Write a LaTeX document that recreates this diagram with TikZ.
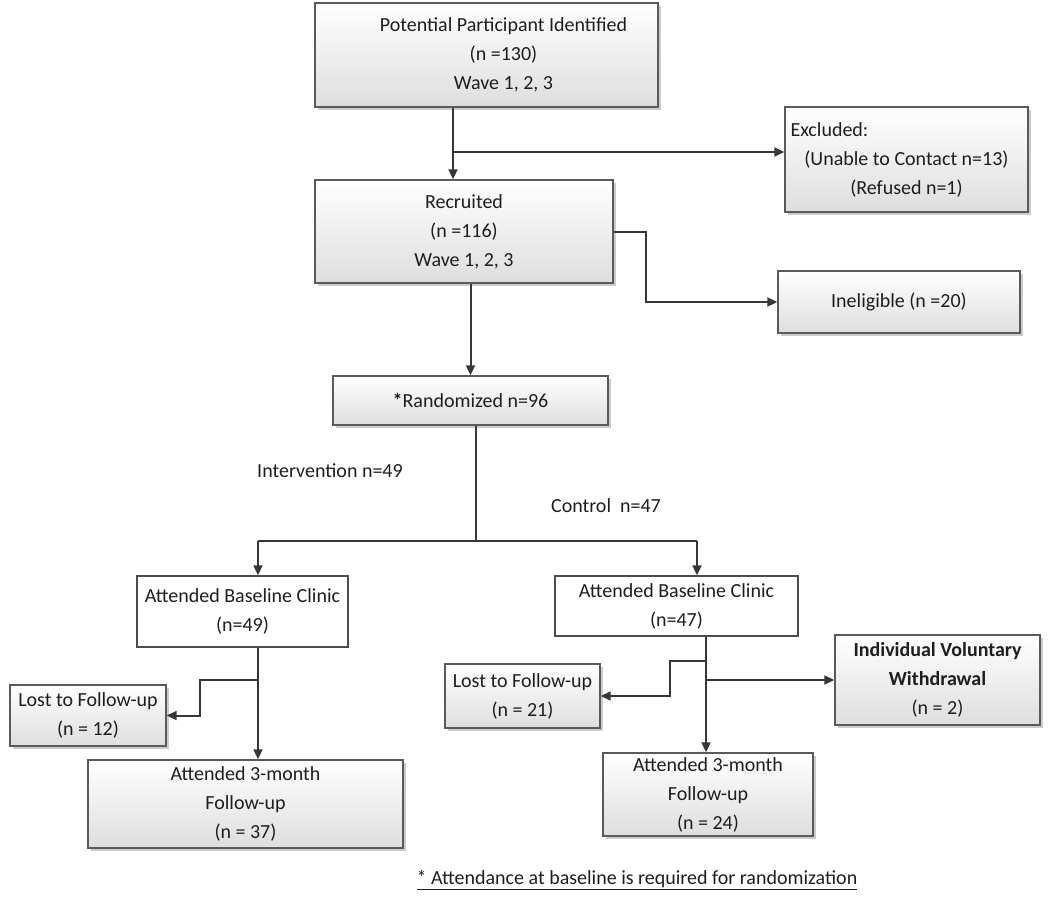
\documentclass[tikz,border=0pt]{standalone}
\usepackage{fontspec}
\setmainfont{Carlito}
\definecolor{linegray}{RGB}{55,55,55}
\definecolor{boxgray}{RGB}{90,90,90}
\definecolor{txtgray}{RGB}{30,30,30}
\usetikzlibrary{arrows.meta,shadows}

\begin{document}
\begin{tikzpicture}[x=1pt,y=-1pt,
    every node/.style={text=txtgray,align=center,inner sep=2pt,
      font=\fontsize{20}{29}\selectfont},
    gbox/.style={draw=boxgray,line width=1.4pt,top color=white,bottom color=black!13,
      drop shadow={shadow xshift=2.5pt,shadow yshift=-2.5pt,fill=black!40}},
    wbox/.style={draw=black!70,line width=1.4pt,fill=white},
    arr/.style={draw=linegray,line width=2pt,-{Triangle[length=10pt,width=9pt]}},
    ln/.style={draw=linegray,line width=2pt}
    ]
    \useasboundingbox (0,0) rectangle (1050,903);

    % the upper boxes
    \node[gbox,minimum width=343pt,minimum height=104pt] (pot) at (486.5,55)
      {\hspace*{34pt}Potential Participant Identified\\\hspace*{34pt}(n =130)\\\hspace*{34pt}Wave 1, 2, 3};
    \node[gbox,minimum width=243pt,minimum height=105pt] (excl) at (906.5,159.5)
      {\makebox[232pt][l]{Excluded:}\\(Unable to Contact n=13)\\(Refused n=1)};
    \node[gbox,minimum width=298pt,minimum height=103pt] (recr) at (464,231.5)
      {Recruited\\(n =116)\\Wave 1, 2, 3};
    \node[gbox,minimum width=242pt,minimum height=62pt] (inel) at (899,302)
      {Ineligible (n =20)};
    \node[gbox,minimum width=275pt,minimum height=49pt] (rand) at (470.5,400.5)
      {\textbf{*}Randomized n=96};

    % the two arms
    \node (intv) at (330,471) {Intervention n=49};
    \node (ctrl) at (606,506) {Control\ \ n=47};

    % intervention arm
    \node[wbox,minimum width=211pt,minimum height=71pt] (baseL) at (242.5,611.5)
      {Attended Baseline Clinic\\(n=49)};
    \node[gbox,minimum width=156pt,minimum height=61pt] (lostL) at (88,715.5)
      {Lost to Follow-up\\(n = 12)};
    \node[gbox,minimum width=315pt,minimum height=88pt] (fuL) at (245.5,804)
      {Attended 3-month\\Follow-up\\(n = 37)};

    % control arm
    \node[wbox,minimum width=243pt,minimum height=60pt] (baseR) at (676.5,606)
      {Attended Baseline Clinic\\(n=47)};
    \node[gbox,minimum width=155pt,minimum height=64pt] (lostR) at (522.5,696)
      {Lost to Follow-up\\(n = 21)};
    \node[gbox,minimum width=205pt,minimum height=90pt] (wd) at (937.5,680)
      {\textbf{Individual Voluntary}\\\textbf{Withdrawal}\\(n = 2)};
    \node[gbox,minimum width=210pt,minimum height=83pt] (fuR) at (708,794.5)
      {Attended 3-month\\Follow-up\\(n = 24)};

    % the footnote
    \node (note) at (637,880) {\underline{* Attendance at baseline is required for randomization}};

    % the connectors
    \coordinate (j1) at (453,152);
    \draw[arr] (pot.south -| j1) -- (recr.north -| j1);
    \draw[arr] (j1) -- (excl.west |- j1);
    \draw[arr] (recr.east) -- ++(32,0) |- (inel.west);
    \draw[arr] (recr.south -| rand.north) -- (rand.north);

    \coordinate (sp) at (476,541);
    \coordinate (aL) at (258,541);
    \coordinate (aR) at (697,541);
    \draw[ln] (rand.south -| sp) -- (sp);
    \draw[ln] (aL) -- (aR);
    \draw[arr] (aL) -- (baseL.north -| aL);
    \draw[arr] (aR) -- (baseR.north -| aR);

    \coordinate (bL) at (258,680);
    \draw[arr] (baseL.south -| aL) -- (fuL.north -| aL);
    \draw[arr] (bL) -- ++(-58,0) |- (lostL.east);

    \coordinate (cR) at (706,661);
    \coordinate (dR) at (706,680);
    \draw[arr] (baseR.south -| cR) -- (fuR.north -| cR);
    \draw[arr] (cR) -- ++(-36,0) |- (lostR.east);
    \draw[arr] (dR) -- (wd.west |- dR);
\end{tikzpicture}
\end{document}
